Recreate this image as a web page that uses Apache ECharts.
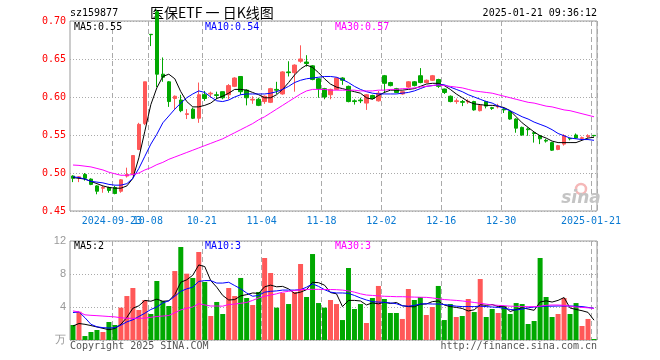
<!DOCTYPE html>
<html><head><meta charset="utf-8">
<script src="https://cdn.jsdelivr.net/npm/echarts@6/dist/echarts.min.js"></script>
<style>html,body{margin:0;padding:0;background:#fff}#c{width:660px;height:360px}</style>
</head><body><div id="c"></div>
<script>
const dates = ['2024-09-10','2024-09-11','2024-09-12','2024-09-13','2024-09-18','2024-09-19','2024-09-20','2024-09-23','2024-09-24','2024-09-25','2024-09-26','2024-09-27','2024-09-30',
'2024-10-08','2024-10-09','2024-10-10','2024-10-11','2024-10-14','2024-10-15','2024-10-16','2024-10-17','2024-10-18','2024-10-21','2024-10-22','2024-10-23','2024-10-24','2024-10-25','2024-10-28','2024-10-29','2024-10-30','2024-10-31',
'2024-11-01','2024-11-04','2024-11-05','2024-11-06','2024-11-07','2024-11-08','2024-11-11','2024-11-12','2024-11-13','2024-11-14','2024-11-15','2024-11-18','2024-11-19','2024-11-20','2024-11-21','2024-11-22','2024-11-25','2024-11-26','2024-11-27','2024-11-28','2024-11-29',
'2024-12-02','2024-12-03','2024-12-04','2024-12-05','2024-12-06','2024-12-09','2024-12-10','2024-12-11','2024-12-12','2024-12-13','2024-12-16','2024-12-17','2024-12-18','2024-12-19','2024-12-20','2024-12-23','2024-12-24','2024-12-25','2024-12-26','2024-12-27','2024-12-30','2024-12-31',
'2025-01-02','2025-01-03','2025-01-06','2025-01-07','2025-01-08','2025-01-09','2025-01-10','2025-01-13','2025-01-14','2025-01-15','2025-01-16','2025-01-17','2025-01-20','2025-01-21'];

const openP = [0.496,0.4935,0.498,0.492,0.483,0.480,0.481,0.481,0.476,0.496,
0.498,0.531,0.565,0.6825,0.712,0.630,0.620,0.598,0.596,0.577,
0.584,0.572,0.603,0.604,0.603,0.607,0.603,0.614,0.627,0.609,
0.596,0.597,0.594,0.593,0.610,0.604,0.633,0.632,0.647,0.646,
0.641,0.624,0.611,0.603,0.610,0.625,0.614,0.595,0.596,0.592,
0.602,0.595,0.628,0.619,0.611,0.604,0.613,0.620,0.628,0.619,
0.622,0.623,0.6105,0.601,0.594,0.594,0.5935,0.594,0.582,0.594,
0.586,0.587,0.584,0.581,0.571,0.560,0.558,0.553,0.549,0.543,
0.540,0.531,0.538,0.5455,0.550,0.5455,0.548,0.5495];
const closeP = [0.493,0.495,0.493,0.485,0.476,0.481,0.477,0.473,0.491,0.498,
0.523,0.564,0.620,0.682,0.630,0.626,0.594,0.601,0.582,0.578,
0.572,0.603,0.598,0.605,0.602,0.599,0.615,0.625,0.607,0.599,
0.597,0.589,0.601,0.611,0.609,0.633,0.632,0.642,0.650,0.644,
0.623,0.611,0.600,0.610,0.625,0.622,0.594,0.594,0.595,0.603,
0.598,0.605,0.618,0.615,0.606,0.607,0.620,0.615,0.619,0.622,
0.628,0.614,0.606,0.594,0.595,0.593,0.5945,0.583,0.589,0.588,
0.585,0.588,0.583,0.571,0.559,0.550,0.557,0.552,0.545,0.542,
0.530,0.536,0.549,0.545,0.546,0.5465,0.549,0.549];
const lowP = [0.488,0.488,0.490,0.484,0.472,0.474,0.474,0.472,0.474,0.494,
0.497,0.530,0.563,0.667,0.613,0.620,0.587,0.584,0.580,0.571,
0.571,0.566,0.595,0.599,0.597,0.597,0.597,0.613,0.603,0.589,
0.591,0.588,0.591,0.592,0.604,0.603,0.627,0.607,0.645,0.640,
0.622,0.599,0.597,0.597,0.609,0.616,0.593,0.590,0.592,0.583,
0.597,0.594,0.605,0.614,0.605,0.603,0.612,0.614,0.618,0.618,
0.621,0.612,0.604,0.593,0.591,0.588,0.591,0.582,0.581,0.585,
0.583,0.585,0.579,0.570,0.553,0.549,0.549,0.540,0.538,0.540,
0.529,0.530,0.536,0.543,0.545,0.545,0.546,0.548];
const highP = [0.497,0.496,0.500,0.493,0.484,0.483,0.482,0.483,0.492,0.507,
0.523,0.566,0.620,0.6825,0.715,0.652,0.621,0.602,0.603,0.584,
0.586,0.619,0.608,0.607,0.607,0.607,0.617,0.626,0.627,0.610,
0.601,0.599,0.602,0.612,0.620,0.634,0.647,0.643,0.668,0.655,
0.642,0.625,0.612,0.611,0.626,0.626,0.615,0.597,0.599,0.604,
0.603,0.608,0.629,0.620,0.612,0.608,0.621,0.621,0.638,0.623,
0.629,0.624,0.611,0.602,0.598,0.596,0.597,0.595,0.590,0.595,
0.587,0.591,0.585,0.582,0.572,0.561,0.560,0.554,0.550,0.545,
0.541,0.537,0.551,0.546,0.552,0.548,0.551,0.550];

const ma5 = [0.494,0.493,0.492,0.489,0.486,0.483,0.481,0.480,0.480,0.483,
0.493,0.520,0.555,0.590,0.612,0.627,0.630,0.624,0.607,0.594,
0.587,0.587,0.589,0.592,0.598,0.601,0.605,0.610,0.610,0.609,
0.606,0.603,0.599,0.599,0.603,0.610,0.619,0.629,0.637,0.642,
0.639,0.632,0.624,0.617,0.613,0.611,0.609,0.607,0.605,0.599,
0.597,0.602,0.606,0.609,0.609,0.609,0.610,0.611,0.614,0.617,
0.618,0.618,0.615,0.610,0.604,0.599,0.594,0.591,0.590,0.589,
0.589,0.588,0.586,0.582,0.574,0.566,0.560,0.554,0.549,0.546,
0.542,0.540,0.540,0.540,0.540,0.543,0.546,0.547];
const ma10 = [0.495,0.494,0.492,0.489,0.488,0.487,0.485,0.484,0.484,0.486,
0.493,0.506,0.522,0.538,0.551,0.566,0.575,0.584,0.592,0.599,
0.604,0.608,0.606,0.600,0.595,0.594,0.596,0.600,0.603,0.604,
0.604,0.604,0.604,0.605,0.607,0.610,0.614,0.619,0.622,0.624,
0.625,0.626,0.627,0.627,0.626,0.623,0.619,0.614,0.610,0.607,
0.605,0.604,0.604,0.604,0.604,0.605,0.606,0.608,0.611,0.614,
0.615,0.616,0.616,0.613,0.610,0.607,0.603,0.600,0.597,0.594,
0.592,0.588,0.585,0.582,0.578,0.574,0.571,0.567,0.564,0.561,
0.557,0.552,0.549,0.546,0.545,0.544,0.544,0.543];
const ma30 = [0.5105,0.510,0.509,0.508,0.506,0.504,0.501,0.499,0.497,0.497,
0.498,0.500,0.504,0.507,0.511,0.514,0.518,0.521,0.524,0.527,
0.530,0.533,0.536,0.539,0.542,0.545,0.549,0.553,0.557,0.561,
0.565,0.570,0.574,0.579,0.584,0.589,0.594,0.599,0.604,0.608,
0.610,0.610,0.610,0.609,0.609,0.609,0.609,0.609,0.608,0.608,
0.608,0.609,0.609,0.610,0.610,0.611,0.611,0.612,0.613,0.614,
0.615,0.616,0.615,0.614,0.613,0.612,0.610,0.608,0.607,0.606,
0.605,0.603,0.601,0.599,0.597,0.595,0.593,0.592,0.590,0.588,
0.587,0.585,0.583,0.582,0.580,0.578,0.576,0.574];

const vol = [1.82,3.43,0.48,0.97,1.21,0.97,2.18,1.82,3.92,5.33,
6.30,3.64,4.85,3.15,7.15,4.73,4.12,8.36,11.27,8.04,
7.52,10.67,7.03,2.91,4.61,3.15,6.30,5.33,7.52,5.09,
4.24,5.82,9.94,8.12,3.92,5.70,4.36,5.82,9.21,5.21,
10.42,4.48,3.92,4.85,4.36,2.42,8.73,3.76,4.36,2.06,
5.09,6.55,4.97,3.27,3.27,2.55,6.18,4.85,5.21,3.03,
4.00,6.55,2.42,4.36,2.79,2.91,4.97,3.39,7.39,2.79,
3.76,3.27,4.12,3.15,4.48,4.36,1.94,2.30,9.94,5.21,
2.79,3.15,5.09,3.15,4.48,1.70,2.55,0.12];
const vma5 = [1.70,2.00,1.90,1.75,1.58,1.41,1.25,1.40,1.90,2.75,
3.85,4.15,4.80,4.70,4.95,4.70,4.75,5.50,7.00,7.30,
7.85,9.10,8.90,7.20,6.40,5.40,4.85,4.90,5.35,5.50,
5.70,5.65,6.45,6.65,6.45,6.50,6.20,5.65,5.80,6.10,
7.00,6.95,6.65,5.75,5.60,4.05,4.80,4.80,4.73,4.25,
4.50,4.38,4.58,4.42,4.55,4.15,4.05,4.02,4.35,4.36,
4.65,4.73,4.24,4.05,3.95,3.82,3.52,3.66,4.27,4.20,
4.30,4.05,4.10,3.45,3.70,3.92,3.75,3.60,4.60,4.75,
4.60,4.80,5.15,3.88,3.70,3.55,3.35,2.40];
const vma10 = [3.33,3.40,2.70,1.90,1.60,1.50,1.45,1.50,1.80,2.20,
2.45,2.85,3.25,3.70,4.00,4.50,4.75,5.30,5.90,6.20,
6.40,7.10,7.20,7.20,6.90,6.90,7.00,6.60,6.20,5.70,
5.30,5.40,5.80,5.90,5.95,6.05,6.05,6.05,6.10,6.40,
6.80,6.50,6.10,5.80,5.70,5.70,5.65,5.40,5.10,4.85,
4.65,4.60,4.55,4.50,4.40,4.15,4.10,4.20,4.35,4.40,
4.36,4.36,4.30,4.20,4.10,4.05,4.05,4.05,4.10,4.05,
4.00,3.95,3.85,3.70,3.64,3.75,3.90,4.00,4.05,4.10,
4.10,4.12,4.12,4.12,4.10,4.05,3.95,3.84];
const vma30 = [3.52,3.40,3.05,2.99,2.95,2.90,2.85,2.80,2.70,2.63,
2.63,2.63,2.65,2.75,2.85,2.90,2.97,3.30,3.65,3.85,
4.00,4.40,4.25,4.12,4.12,4.10,4.30,4.35,4.45,4.55,
4.80,5.10,5.30,5.45,5.60,5.80,5.90,6.00,6.10,6.14,
6.14,6.14,6.12,6.12,6.10,6.05,5.95,5.80,5.60,5.45,
5.40,5.35,5.30,5.28,5.25,5.25,5.22,5.20,5.18,5.17,
5.10,5.00,4.90,4.85,4.80,4.73,4.65,4.55,4.45,4.35,
4.25,4.20,4.15,4.10,4.08,4.05,4.04,4.04,4.10,4.20,
4.24,4.24,4.20,4.10,4.00,3.95,3.90,3.84];

const tickDates = ['2024-09-23','2024-10-08','2024-10-21','2024-11-04','2024-11-18','2024-12-02','2024-12-16','2024-12-30','2025-01-21'];
const tickLabels = ['2024-09-23','10-08','10-21','11-04','11-18','12-02','12-16','12-30','2025-01-21'];

const RED = '#ff5858', GREEN = '#00a800';
const MONO = '"DejaVu Sans Mono","Liberation Mono",monospace';
const tickIdx = tickDates.map(d => dates.indexOf(d));
const isTick = (i) => tickIdx.indexOf(i) >= 0;
const firstTick = tickIdx[0];

const chart = echarts.init(document.getElementById('c'));
const vSplit = {show:true, interval:(i)=>isTick(i), lineStyle:{color:'#aaa', type:[5,3], width:1}};
const hSplit = {show:true, lineStyle:{color:'#aaa', type:[1,2], width:1}};
const candleData = dates.map((d,i)=>[openP[i], closeP[i], lowP[i], highP[i]]);
const lineS = (data, color, xi, yi) => ({type:'line', data, xAxisIndex:xi, yAxisIndex:yi, symbol:'none', silent:true,
  lineStyle:{color, width:1}, z:5, clip:true});
const dateLabel = (only) => ({
  interval:(i)=> only ? i === firstTick : (isTick(i) && i !== firstTick), hideOverlap:false,
  formatter:(v)=>{const k=tickDates.indexOf(v); return k>=0?tickLabels[k]:'';},
  color:'#0a7ad2', fontFamily:MONO, fontSize:10, margin:5, padding:[0,6,0,0]});

chart.setOption({
  animation:false,
  backgroundColor:'#fff',
  grid:[
    {left:70, top:21, width:527, height:190, show:true, borderColor:'#999', borderWidth:1, containLabel:false, outerBoundsMode:'none'},
    {left:70, top:241, width:527, height:99, show:true, borderColor:'#999', borderWidth:1, containLabel:false, outerBoundsMode:'none'}
  ],
  xAxis:[
    {type:'category', gridIndex:0, data:dates, boundaryGap:true, position:'bottom',
      axisLine:{show:false}, axisTick:{show:false}, axisLabel:dateLabel(false), splitLine:vSplit},
    {type:'category', gridIndex:1, data:dates, boundaryGap:true,
      axisLine:{show:false}, axisTick:{show:false}, axisLabel:{show:false}, splitLine:vSplit},
    {type:'category', gridIndex:0, data:dates, boundaryGap:true, position:'bottom', offset:0,
      axisLine:{show:false}, axisTick:{show:false}, axisLabel:dateLabel(true), splitLine:{show:false}}
  ],
  yAxis:[
    {type:'value', gridIndex:0, min:0.45, max:0.70, interval:0.05,
      axisLine:{show:false}, axisTick:{show:false},
      axisLabel:{color:'#ff0000', fontFamily:MONO, fontSize:10, margin:4, formatter:(v)=>v.toFixed(2)},
      splitLine:hSplit},
    {type:'value', gridIndex:1, min:0, max:12, interval:4,
      axisLine:{show:false}, axisTick:{show:false},
      axisLabel:{color:'#999', fontFamily:'"Liberation Sans",Arial,sans-serif', fontSize:11, margin:4,
        formatter:(v)=> v===0 ? '万' : String(v)},
      splitLine:hSplit}
  ],
  series:[
    {type:'candlestick', xAxisIndex:0, yAxisIndex:0, data:candleData, barWidth:4, clip:true, silent:true,
      itemStyle:{color:RED, color0:GREEN, borderColor:RED, borderColor0:GREEN, borderWidth:1}},
    lineS(ma5, '#000000', 0, 0),
    lineS(ma10, '#0000ff', 0, 0),
    lineS(ma30, '#ff00ff', 0, 0),
    {type:'bar', xAxisIndex:1, yAxisIndex:1, data:vol, barWidth:5, silent:true,
      itemStyle:{color:(p)=> closeP[p.dataIndex] >= openP[p.dataIndex] ? RED : GREEN}},
    lineS(vma5, '#000000', 1, 1),
    lineS(vma10, '#0000ff', 1, 1),
    lineS(vma30, '#ff00ff', 1, 1)
  ],
  graphic:[
    {type:'text', x:70, y:13, style:{text:'sz159877', font:'10px '+MONO, fill:'#000', verticalAlign:'middle'}},
    {type:'text', x:150, y:13, style:{text:'医保ETF 一 日K线图', font:'14px "Noto Sans CJK SC"', fill:'#000', verticalAlign:'middle'}},
    {type:'text', x:597, y:13, style:{text:'2025-01-21 09:36:12', font:'10px '+MONO, fill:'#000', align:'right', verticalAlign:'middle'}},
    {type:'text', x:74, y:27, z:10, style:{text:'MA5:0.55', font:'10px '+MONO, fill:'#000', verticalAlign:'middle'}},
    {type:'text', x:205, y:27, z:10, style:{text:'MA10:0.54', font:'10px '+MONO, fill:'#0000ff', verticalAlign:'middle'}},
    {type:'text', x:335, y:27, z:10, style:{text:'MA30:0.57', font:'10px '+MONO, fill:'#ff00ff', verticalAlign:'middle'}},
    {type:'text', x:74, y:246, z:10, style:{text:'MA5:2', font:'10px '+MONO, fill:'#000', verticalAlign:'middle'}},
    {type:'text', x:205, y:246, z:10, style:{text:'MA10:3', font:'10px '+MONO, fill:'#0000ff', verticalAlign:'middle'}},
    {type:'text', x:335, y:246, z:10, style:{text:'MA30:3', font:'10px '+MONO, fill:'#ff00ff', verticalAlign:'middle'}},
    {type:'text', x:70, y:346, style:{text:'Copyright 2025 SINA.COM', font:'10px '+MONO, fill:'#555', verticalAlign:'middle'}},
    {type:'text', x:597, y:346, style:{text:'http://finance.sina.com.cn', font:'10px '+MONO, fill:'#555', align:'right', verticalAlign:'middle'}},
    {type:'circle', shape:{cx:581, cy:189, r:5}, style:{fill:'none', stroke:'#f5b8b8', lineWidth:2.5}, z:1},
    {type:'text', x:581, y:199, z:1, style:{text:'sina', font:'italic bold 17px "DejaVu Sans",sans-serif', fill:'#c4c4c4', align:'center', verticalAlign:'middle'}}
  ]
});
</script></body></html>
